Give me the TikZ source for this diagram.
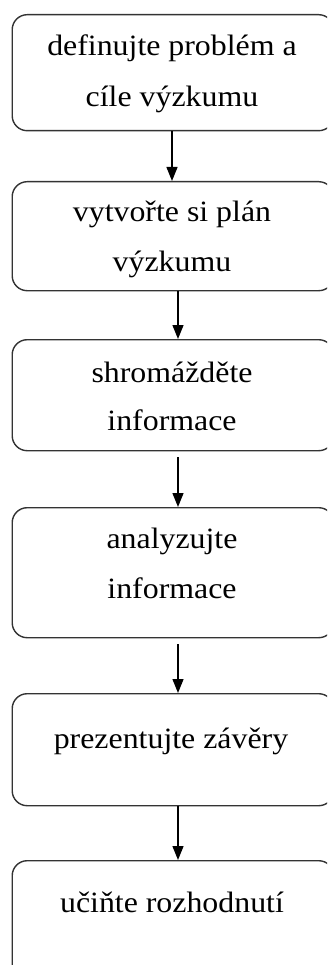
\documentclass[tikz,border=0pt]{standalone}
\usepackage{fontspec}
\setmainfont{Liberation Serif}[FakeStretch=1.08]
\usetikzlibrary{arrows.meta}

\tikzset{
  stepbox/.style={draw=black!80, line width=1.4pt, rounded corners=15pt,
    minimum width=321.5pt, inner sep=0pt, anchor=north west},
  lbl/.style={anchor=base, inner sep=0pt, font=\fontsize{29.5pt}{52pt}\selectfont},
  flow/.style={draw=black, line width=1.3pt,
    -{Triangle[length=14pt, width=11pt]}}
}

\begin{document}
\begin{tikzpicture}[x=1pt, y=-1pt]
  \useasboundingbox (0,0) rectangle (327,965);
  \clip (0,0) rectangle (327,965);

  % process steps
  \node[stepbox, minimum height=116pt] (b1) at (11.5,14) {};
  \node[stepbox, minimum height=109pt] (b2) at (11.5,181) {};
  \node[stepbox, minimum height=111pt] (b3) at (11.5,339) {};
  \node[stepbox, minimum height=130pt] (b4) at (11.5,507) {};
  \node[stepbox, minimum height=112pt] (b5) at (11.5,693) {};
  \node[stepbox, minimum height=140pt] (b6) at (11.5,860) {};

  % step texts
  \node[lbl] (t1a) at (172,56)  {definujte problém a};
  \node[lbl] (t1b) at (172,107) {cíle výzkumu};
  \node[lbl] (t2a) at (172,222) {vytvořte si plán};
  \node[lbl] (t2b) at (172,272) {výzkumu};
  \node[lbl] (t3a) at (172,382) {shromážděte};
  \node[lbl] (t3b) at (172,430) {informace};
  \node[lbl] (t4a) at (172,548) {analyzujte};
  \node[lbl] (t4b) at (172,598) {informace};
  \node[lbl] (t5)  at (171,748) {prezentujte závěry};
  \node[lbl] (t6)  at (172,912) {učiňte rozhodnutí};

  % connectors
  \draw[flow] (b1.south -| 172,0) -- (b2.north -| 172,0);
  \draw[flow] (b2.south -| 178,0) -- (b3.north -| 178,0);
  \draw[flow, shorten <=6pt] (b3.south -| 178,0) -- (b4.north -| 178,0);
  \draw[flow, shorten <=6pt] (b4.south -| 178,0) -- (b5.north -| 178,0);
  \draw[flow] (b5.south -| 178,0) -- (b6.north -| 178,0);
\end{tikzpicture}
\end{document}
